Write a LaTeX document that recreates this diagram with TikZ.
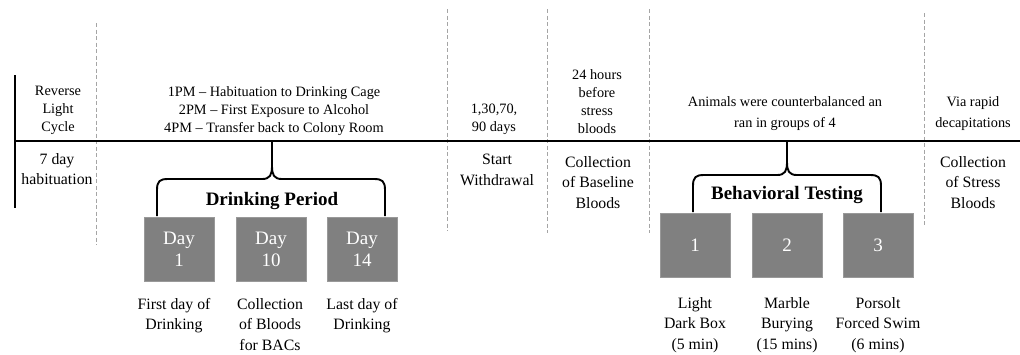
\documentclass[tikz,border=0pt]{standalone}
\usepackage{fontspec}
\setmainfont{Liberation Serif}
\definecolor{boxgray}{RGB}{128,128,128}
\definecolor{guidegray}{RGB}{165,165,165}
\begin{document}
\begin{tikzpicture}[x=1pt,y=-1pt,
  guide/.style={draw=guidegray,line width=0.8pt,dash pattern=on 4pt off 2.5pt},
  axis/.style={line width=2.6pt,black},
  brace/.style={line width=1.9pt,black},
  daybox/.style={fill=boxgray,draw=boxgray!80,minimum width=70pt,minimum height=64pt,inner sep=0pt,text=white,align=center,font=\fontsize{19}{22}\selectfont},
  toptxt/.style={anchor=north,inner sep=0pt,align=center,font=\fontsize{14.3}{18}\selectfont},
  midtxt/.style={anchor=north,inner sep=0pt,align=center,font=\fontsize{15.8}{20.5}\selectfont},
  bold/.style={inner sep=0pt,font=\fontsize{19}{22}\selectfont\bfseries}]
\useasboundingbox (0,0) rectangle (1020,354);
% guides
\draw[guide] (96,23) -- (96,245);
\draw[guide] (447,9) -- (447,231);
\draw[guide] (547,9) -- (547,233);
\draw[guide] (649,9) -- (649,233);
\draw[guide] (924,13) -- (924,225);
% axes
\coordinate (bartop) at (15,75);
\coordinate (barbot) at (15,208);
\coordinate (lstart) at (15,141);
\coordinate (lend) at (1020,141);
\draw[axis] (bartop) -- (barbot);
\draw[line width=2.4pt] (lstart) -- (lend);
% top texts
\node[toptxt] (rlc) at (58,86) {Reverse\\Light\\Cycle};
\node[toptxt] (pm) at (274,86) {1PM -- Habituation to Drinking Cage\\2PM -- First Exposure to Alcohol\\4PM -- Transfer back to Colony Room};
\node[toptxt] (days) at (494,104) {1,30,70,\\90 days};
\node[toptxt] (h24) at (597,69) {24 hours\\before\\stress\\bloods};
\node[toptxt,font=\fontsize{14.3}{21}\selectfont] (anim) at (785,96) {Animals were counterbalanced an\\ran in groups of 4};
\node[toptxt,font=\fontsize{14.3}{21}\selectfont] (via) at (973,96) {Via rapid\\decapitations};
% below-line texts
\node[midtxt] (hab) at (57,153) {7 day\\habituation};
\node[midtxt] (sw) at (497,154) {Start\\Withdrawal};
\node[midtxt] (cbb) at (598,156) {Collection\\of Baseline\\Bloods};
\node[midtxt] (csb) at (973,156) {Collection\\of Stress\\Bloods};
% drinking period
\node[daybox] (d1) at (179,249) {Day\\1};
\node[daybox] (d10) at (271,249) {Day\\10};
\node[daybox] (d14) at (362,249) {Day\\14};
\node[bold] (dp) at (272,201) {Drinking Period};
\coordinate (dtip) at (272,141);
\draw[brace] (157,216) -- (157,190) .. controls (157,181) and (160,179) .. (168,179) -- (262,179) .. controls (270,179) and (272,175) .. (272,166) -- (dtip);
\draw[brace] (385,216) -- (385,190) .. controls (385,181) and (382,179) .. (374,179) -- (282,179) .. controls (274,179) and (272,175) .. (272,166);
\node[midtxt] (l1) at (174,298) {First day of\\Drinking};
\node[midtxt] (l10) at (270,298) {Collection\\of Bloods\\for BACs};
\node[midtxt] (l14) at (362,298) {Last day of\\Drinking};
% behavioral testing
\node[daybox] (b1) at (695,245) {1};
\node[daybox] (b2) at (787,245) {2};
\node[daybox] (b3) at (878,245) {3};
\node[bold] (bt) at (787,195) {Behavioral Testing};
\coordinate (btip) at (787,141);
\draw[brace] (693,212) -- (693,186) .. controls (693,177) and (696,175) .. (704,175) -- (777,175) .. controls (785,175) and (787,171) .. (787,162) -- (btip);
\draw[brace] (881,212) -- (881,186) .. controls (881,177) and (878,175) .. (870,175) -- (797,175) .. controls (789,175) and (787,171) .. (787,162);
\node[midtxt] (lb1) at (695,297) {Light\\Dark Box\\(5 min)};
\node[midtxt] (lb2) at (787,297) {Marble\\Burying\\(15 mins)};
\node[midtxt] (lb3) at (878,297) {Porsolt\\Forced Swim\\(6 mins)};
\end{tikzpicture}
\end{document}
